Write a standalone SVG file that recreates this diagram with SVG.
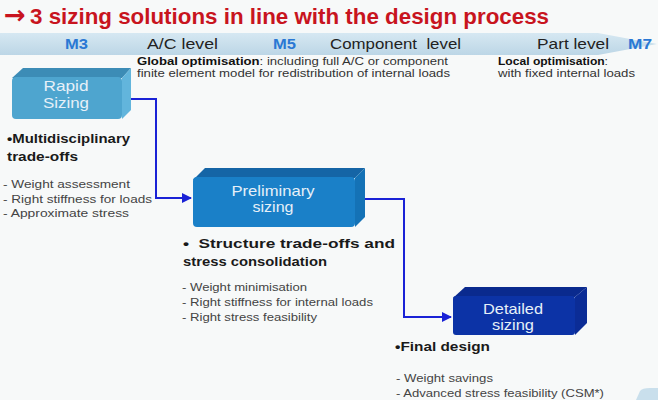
<svg xmlns="http://www.w3.org/2000/svg" width="658" height="400" viewBox="0 0 658 400">
<defs>
<linearGradient id="band" x1="0" y1="0" x2="0" y2="1">
<stop offset="0" stop-color="#d6e8f2"/>
<stop offset="1" stop-color="#bcd6e6"/>
</linearGradient>
<marker id="arr" viewBox="0 0 10 10" refX="9" refY="5" markerWidth="5" markerHeight="5" orient="auto" markerUnits="strokeWidth">
<path d="M0,0 L10,5 L0,10 z" fill="#1a22d6"/>
</marker>
</defs>
<style>
text{font-family:"Liberation Sans",Arial,sans-serif}
.title{font-size:22px;font-weight:bold;fill:#c8141e}
.m{font-size:15px;font-weight:bold;fill:#2a78d4}
.lvl{font-size:15px;fill:#222}
.sm{font-size:11px;fill:#333}
.smb{font-size:11px;fill:#111;font-weight:bold}
.head{font-size:13.5px;font-weight:bold;fill:#1a1a1a}
.lst{font-size:11.5px;fill:#444}
.lbl{font-size:15px;fill:#e6f0f8;text-anchor:middle}
.conn{fill:none;stroke:#1a22d6;stroke-width:2}
</style>
<rect width="658" height="400" fill="#f7f9f9"/>
<text class="title" x="4" y="24"><tspan style="font-family:'DejaVu Sans',sans-serif;font-size:26px">→</tspan><tspan x="30" textLength="519" lengthAdjust="spacingAndGlyphs">3 sizing solutions in line with the design process</tspan></text>
<path d="M0,33 L598,33 L657,44 L598,55 L0,55 Z" fill="url(#band)"/>
<text class="m" x="65" y="49" textLength="23" lengthAdjust="spacingAndGlyphs">M3</text>
<text class="lvl" x="147" y="49" textLength="71" lengthAdjust="spacingAndGlyphs">A/C level</text>
<text class="m" x="273" y="49" textLength="23" lengthAdjust="spacingAndGlyphs">M5</text>
<text class="lvl" x="330" y="49" xml:space="preserve" textLength="131" lengthAdjust="spacingAndGlyphs">Component  level</text>
<text class="lvl" x="537" y="49" textLength="72" lengthAdjust="spacingAndGlyphs">Part level</text>
<text class="m" x="628" y="49" textLength="24" lengthAdjust="spacingAndGlyphs">M7</text>
<text class="sm" x="137" y="65" textLength="311" lengthAdjust="spacingAndGlyphs"><tspan class="smb">Global optimisation</tspan>: including full A/C or component</text>
<text class="sm" x="137" y="77" textLength="313" lengthAdjust="spacingAndGlyphs">finite element model for redistribution of internal loads</text>
<text class="sm" x="498" y="65" textLength="110" lengthAdjust="spacingAndGlyphs"><tspan class="smb">Local optimisation</tspan>:</text>
<text class="sm" x="498" y="77" textLength="137" lengthAdjust="spacingAndGlyphs">with fixed internal loads</text>
<g id="connectors">
<path class="conn" d="M124,99 H156 V198 H191" marker-end="url(#arr)"/>
<path class="conn" d="M353,199 H404 V317 H451" marker-end="url(#arr)"/>
</g>
<g id="rapid">
<path d="M12,78 L23,68 L131,68 L122,78 Z" fill="#3c8cb6"/>
<path d="M122,78 L131,68 L131,110 L122,119 Z" fill="#62b5dc"/>
<rect x="12" y="77" width="110" height="42" rx="4" fill="#4ea5cf"/>
<text class="lbl" x="66" y="91" textLength="45" lengthAdjust="spacingAndGlyphs">Rapid</text>
<text class="lbl" x="66" y="108" textLength="46" lengthAdjust="spacingAndGlyphs">Sizing</text>
</g>
<g id="preliminary">
<path d="M193,180 L205,168 L365,168 L355,178 Z" fill="#1565a6"/>
<path d="M355,178 L365,168 L365,217 L355,227 Z" fill="#1472b6"/>
<rect x="193" y="177" width="162" height="50" rx="4" fill="#1a80c8"/>
<text class="lbl" x="273" y="196" textLength="83" lengthAdjust="spacingAndGlyphs">Preliminary</text>
<text class="lbl" x="273" y="212" textLength="41" lengthAdjust="spacingAndGlyphs">sizing</text>
</g>
<g id="detailed">
<path d="M453,298 L465,287 L587,287 L575,297 Z" fill="#0a2a8e"/>
<path d="M575,297 L587,287 L587,323 L575,335 Z" fill="#0b2c96"/>
<rect x="453" y="296" width="122" height="39" rx="3" fill="#0c33a6"/>
<text class="lbl" x="513" y="314" textLength="60" lengthAdjust="spacingAndGlyphs">Detailed</text>
<text class="lbl" x="513" y="330" textLength="42" lengthAdjust="spacingAndGlyphs">sizing</text>
</g>
<text class="head" x="7" y="143" textLength="123" lengthAdjust="spacingAndGlyphs">•Multidisciplinary</text>
<text class="head" x="7" y="161" textLength="71" lengthAdjust="spacingAndGlyphs">trade-offs</text>
<text class="lst" x="3" y="188" textLength="127" lengthAdjust="spacingAndGlyphs">- Weight assessment</text>
<text class="lst" x="3" y="203" textLength="149" lengthAdjust="spacingAndGlyphs">- Right stiffness for loads</text>
<text class="lst" x="3" y="217" textLength="126" lengthAdjust="spacingAndGlyphs">- Approximate stress</text>
<text class="head" x="183" y="248" xml:space="preserve" textLength="212" lengthAdjust="spacingAndGlyphs">•  Structure trade-offs and</text>
<text class="head" x="183" y="266" textLength="144" lengthAdjust="spacingAndGlyphs">stress consolidation</text>
<text class="lst" x="182" y="291" textLength="125" lengthAdjust="spacingAndGlyphs">- Weight minimisation</text>
<text class="lst" x="182" y="306" textLength="191" lengthAdjust="spacingAndGlyphs">- Right stiffness for internal loads</text>
<text class="lst" x="182" y="321" textLength="135" lengthAdjust="spacingAndGlyphs">- Right stress feasibility</text>
<text class="head" x="395" y="351" textLength="95" lengthAdjust="spacingAndGlyphs">•Final design</text>
<text class="lst" x="396" y="382" textLength="97" lengthAdjust="spacingAndGlyphs">- Weight savings</text>
<text class="lst" x="396" y="397" textLength="208" lengthAdjust="spacingAndGlyphs">- Advanced stress feasibility (CSM*)</text>
<path d="M636,400 L640,391 Q642,388 650,388 L658,388 L658,400 Z" fill="#c9dfec"/>
</svg>
